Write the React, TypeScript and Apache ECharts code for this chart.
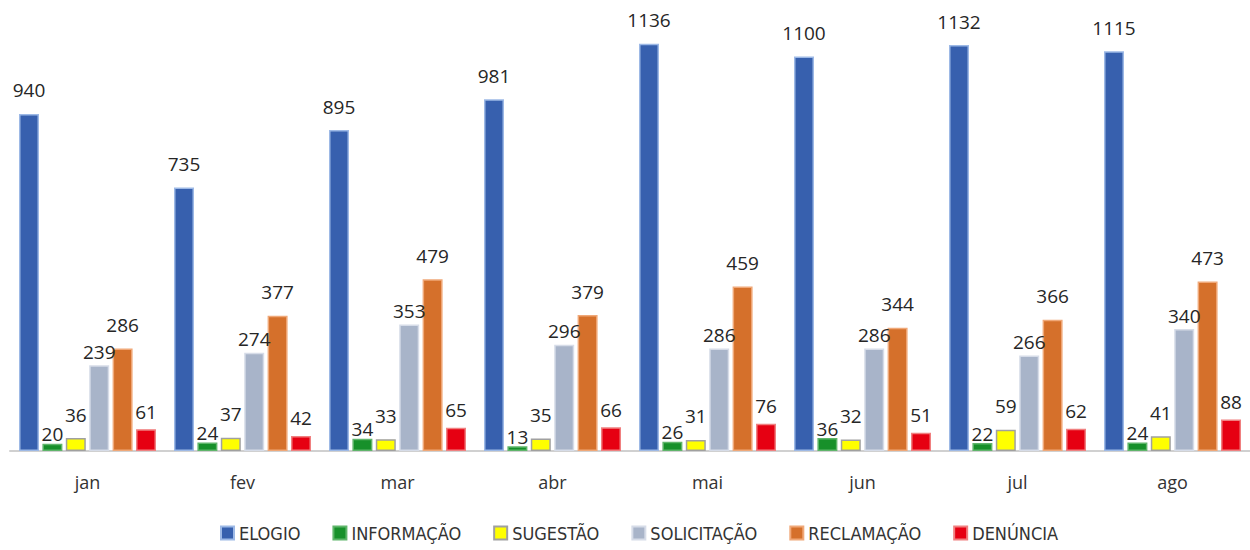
import React, { useEffect, useRef } from "react";
import * as echarts from "echarts";

const months = ["jan", "fev", "mar", "abr", "mai", "jun", "jul", "ago"];
const elogio = [940, 735, 895, 981, 1136, 1100, 1132, 1115];
const informacao = [20, 24, 34, 13, 26, 36, 22, 24];
const sugestao = [36, 37, 33, 35, 31, 32, 59, 41];
const solicitacao = [239, 274, 353, 296, 286, 286, 266, 340];
const reclamacao = [286, 377, 479, 379, 459, 344, 366, 473];
const denuncia = [61, 42, 65, 66, 76, 51, 62, 88];

const seriesDefs = [
  { name: "ELOGIO", data: elogio, color: "#3760AE", border: "#9DB9E6", dist: 14 },
  { name: "INFORMAÇÃO", data: informacao, color: "#17902A", border: "#5FB56A", dist: 0 },
  { name: "SUGESTÃO", data: sugestao, color: "#FFFF00", border: "#A0A0A0", dist: 14 },
  { name: "SOLICITAÇÃO", data: solicitacao, color: "#A8B4C9", border: "#D6DCE8", dist: 4 },
  { name: "RECLAMAÇÃO", data: reclamacao, color: "#D5702B", border: "#F0A878", dist: 14 },
  { name: "DENÚNCIA", data: denuncia, color: "#E60012", border: "#F08080", dist: 8 },
];

export default function App() {
  const ref = useRef<HTMLDivElement>(null);
  useEffect(() => {
    if (!ref.current) return;
    const chart = echarts.init(ref.current, undefined, { renderer: "svg" });
    chart.setOption({
      animation: false,
      backgroundColor: "#ffffff",
      grid: { left: 10, right: 0, top: 30, bottom: 99, containLabel: false },
      xAxis: {
        type: "category",
        data: months,
        axisLine: { lineStyle: { color: "#D0D0D0", width: 2 } },
        axisTick: { show: false },
        axisLabel: {
          color: "#333333",
          fontSize: 18,
          fontFamily: "Open Sans",
          margin: 22,
        },
      },
      yAxis: {
        type: "value",
        min: 0,
        max: 1174,
        show: false,
        splitLine: { show: false },
      },
      legend: {
        bottom: 3,
        left: 215,
        itemWidth: 13,
        itemHeight: 13,
        itemGap: 32,
        icon: "rect",
        textStyle: {
          color: "#333333",
          fontSize: 18,
          fontFamily: "'DejaVu Sans Condensed', 'Open Sans'",
        },
        data: seriesDefs.map((s) => s.name),
      },
      series: seriesDefs.map((s) => ({
        name: s.name,
        type: "bar",
        data: s.data,
        barWidth: 20,
        barGap: "17%",
        itemStyle: { color: s.color, borderColor: s.border, borderWidth: 1.5 },
        label: {
          show: true,
          position: "top",
          distance: s.dist,
          color: "#262626",
          fontSize: 19,
          fontFamily: "Open Sans",
        },
      })),
    });
    return () => chart.dispose();
  }, []);
  return (
    <div
      ref={ref}
      style={{ position: "fixed", left: 0, top: 0, width: 1250, height: 550 }}
    />
  );
}
